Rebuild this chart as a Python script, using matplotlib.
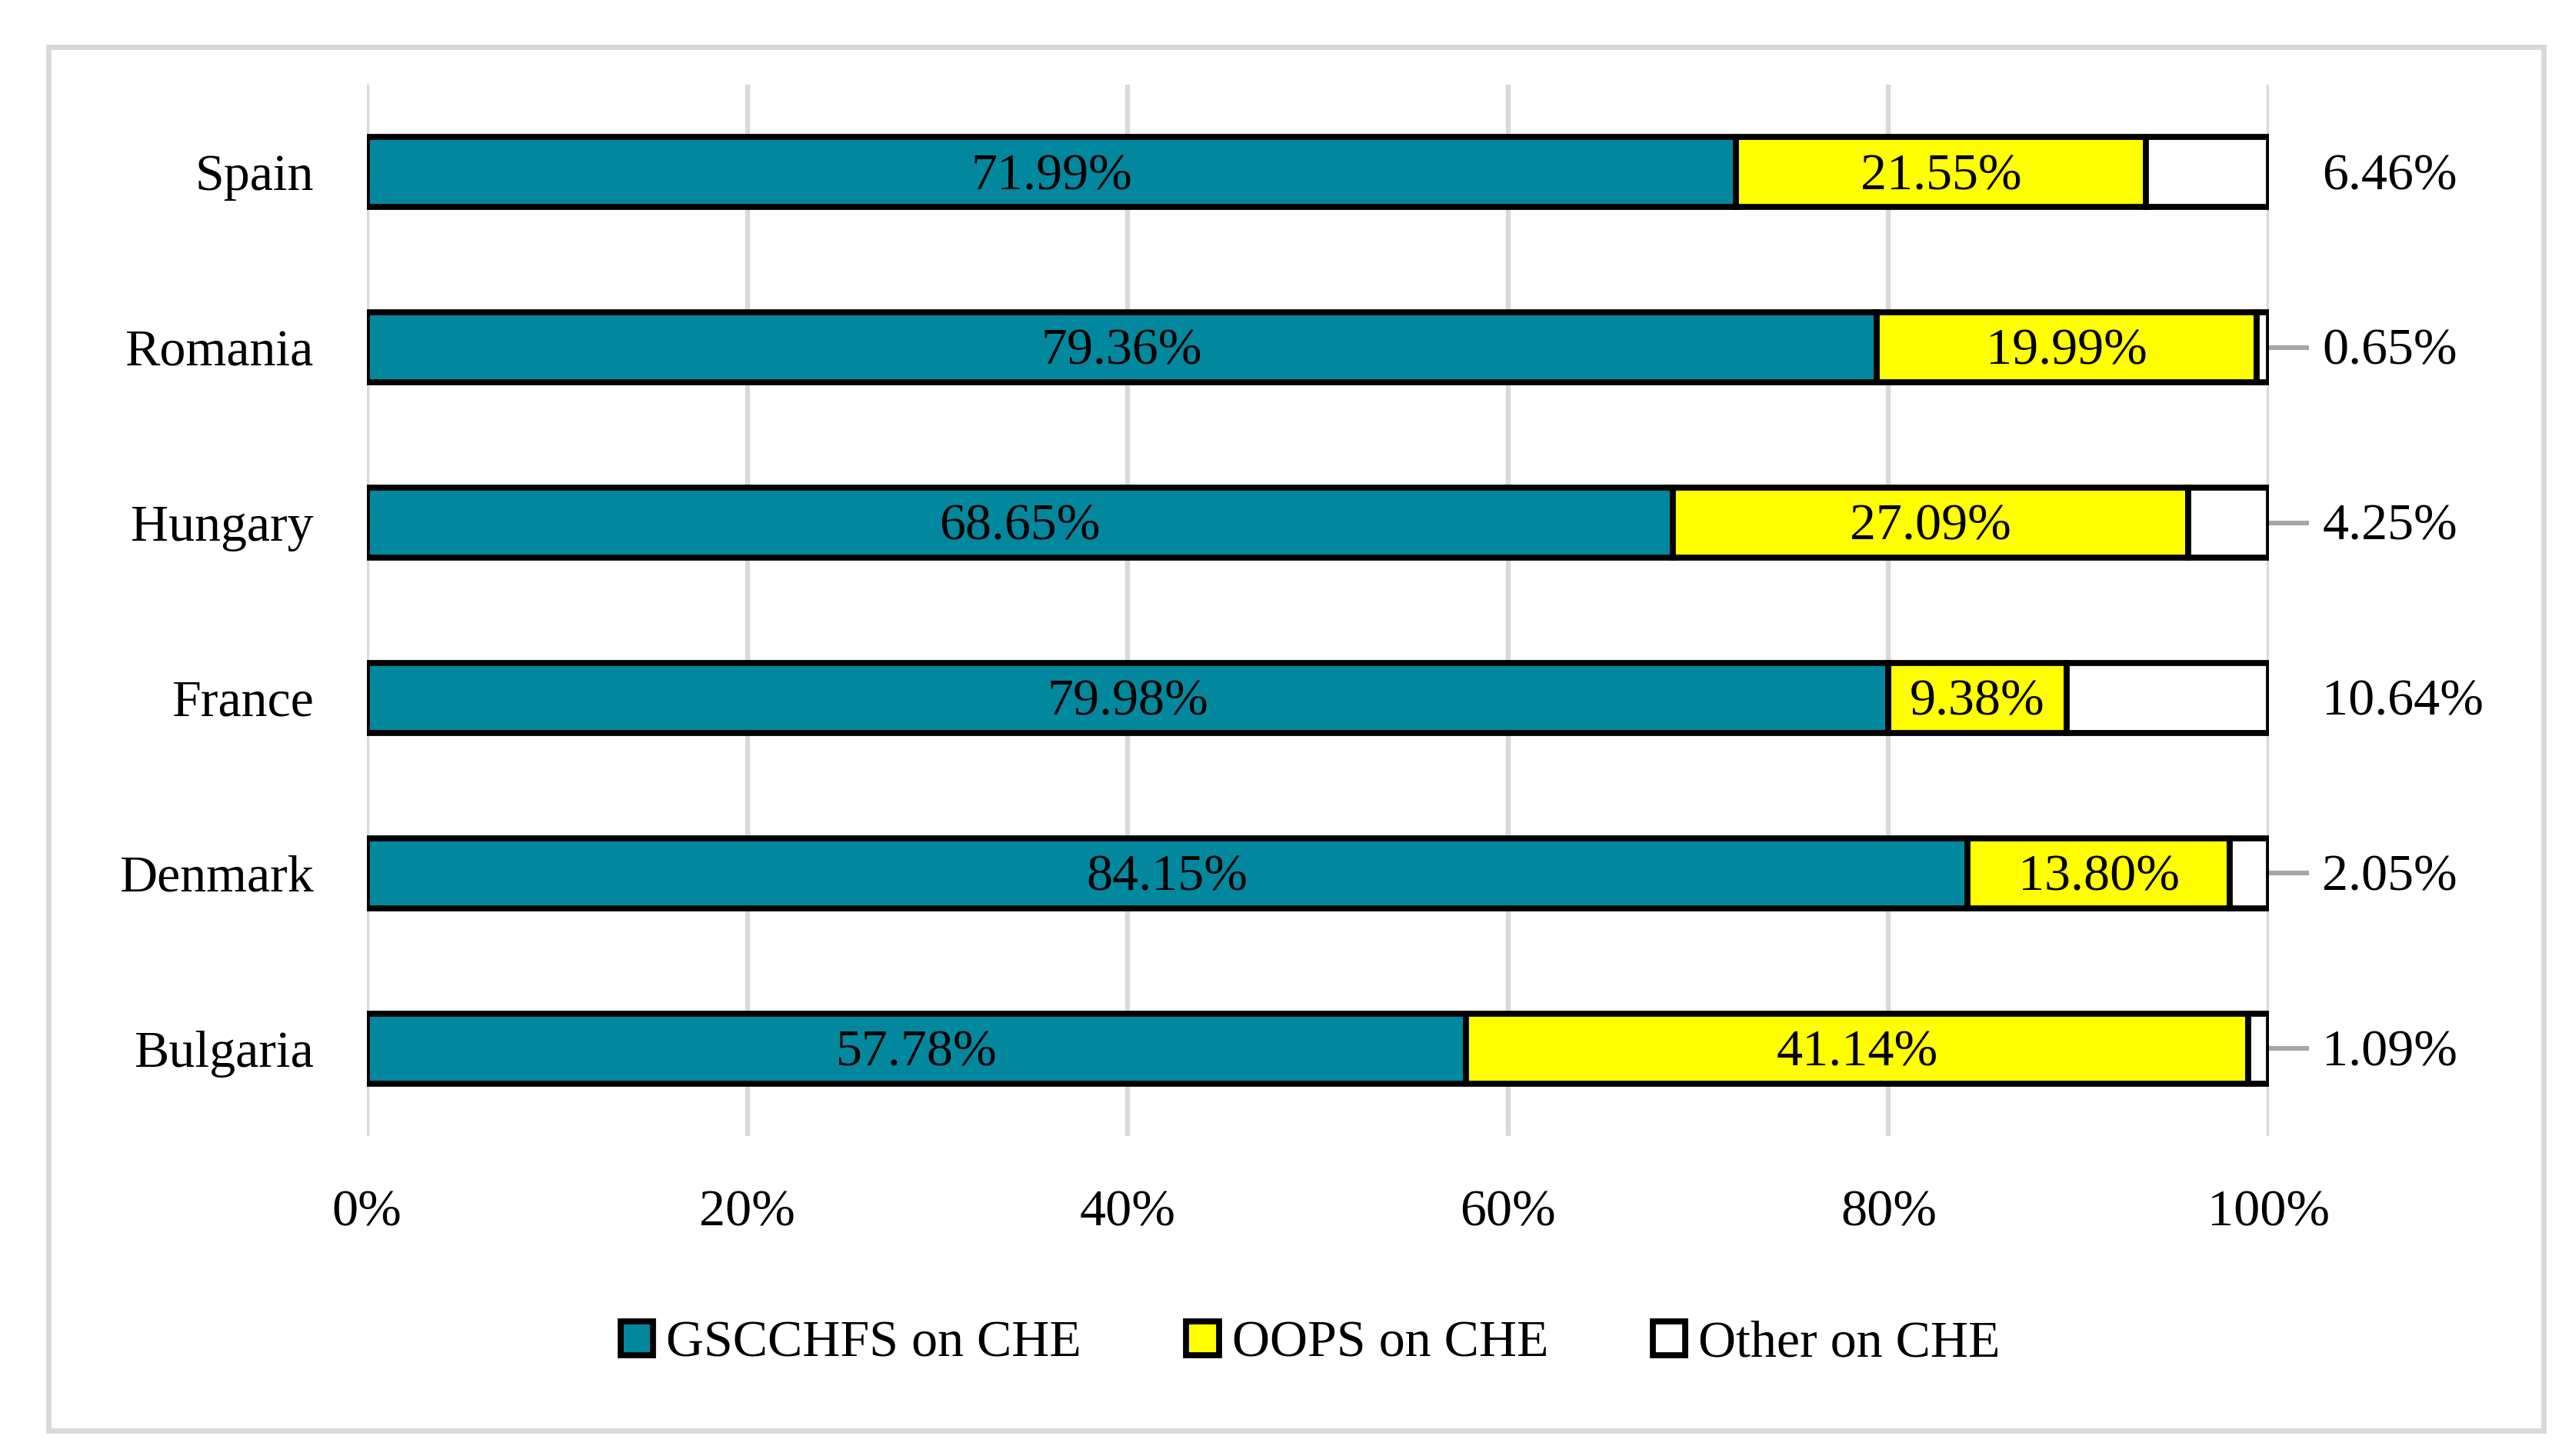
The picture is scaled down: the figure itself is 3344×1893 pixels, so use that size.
import matplotlib.pyplot as plt
from matplotlib.patches import Rectangle

# Shares of current health expenditure (CHE), in percent
countries = ['Bulgaria', 'Denmark', 'France', 'Hungary', 'Romania', 'Spain']
gsc_share = [57.78, 84.15, 79.98, 68.65, 79.36, 71.99]
oops_share = [41.14, 13.80, 9.38, 27.09, 19.99, 21.55]
other_share = [1.09, 2.05, 10.64, 4.25, 0.65, 6.46]
series_names = ['GSCCHFS on CHE', 'OOPS on CHE', 'Other on CHE']
x_ticks = [0, 20, 40, 60, 80, 100]

teal = '#02889E'
yellow = '#FFFF00'
grid_gray = '#D9D9D9'
leader_gray = '#A6A6A6'

plt.rcParams['font.family'] = ['Liberation Serif', 'DejaVu Serif']

W, H = 3344, 1893
fig = plt.figure(figsize=(W / 200, H / 200), dpi=200)
# axes placed from pixel measurements of the original
ax = fig.add_axes([477 / W, 1 - 1477 / H, (2950 - 477) / W, (1477 - 110) / H])

# outer chart frame
fig.patches.append(Rectangle((63 / W, 1 - 1860 / H), (3307 - 63) / W, (1860 - 61) / H,
                             transform=fig.transFigure, fill=False,
                             edgecolor=grid_gray, linewidth=2.5))

ypos = list(range(len(countries)))
bar_h = 0.40
edge = dict(edgecolor='black', linewidth=2.8)

left2 = [a for a in gsc_share]
left3 = [a + b for a, b in zip(gsc_share, oops_share)]
b1 = ax.barh(ypos, gsc_share, height=bar_h, color=teal, label=series_names[0], zorder=3, **edge)
b2 = ax.barh(ypos, oops_share, left=left2, height=bar_h, color=yellow, label=series_names[1], zorder=3, **edge)
b3 = ax.barh(ypos, other_share, left=left3, height=bar_h, color='white', label=series_names[2], zorder=3, **edge)

fs = 24.5
dy = -0.025  # nudge labels down a touch so digits sit centred in the bar
for i in ypos:
    ax.text(gsc_share[i] / 2, i + dy, f'{gsc_share[i]:.2f}%', ha='center', va='center', fontsize=fs, zorder=4)
    ax.text(left2[i] + oops_share[i] / 2, i + dy, f'{oops_share[i]:.2f}%', ha='center', va='center',
            fontsize=fs, zorder=4)
    # labels for the "other" segment sit outside the bar
    ax.text(102.8, i + dy, f'{other_share[i]:.2f}%', ha='left', va='center', fontsize=fs, clip_on=False)
    if other_share[i] < 5:
        ax.plot([100.1, 102.0], [i, i], color=leader_gray, linewidth=2.2, clip_on=False, zorder=2)

ax.set_xlim(0, 100)
ax.set_ylim(-0.5, 5.5)
ax.set_xticks(x_ticks)
ax.set_xticklabels([f'{t}%' for t in x_ticks], fontsize=fs)
ax.set_yticks(ypos)
ax.set_yticklabels(countries, fontsize=fs)
ax.tick_params(axis='x', length=0, pad=25)
ax.tick_params(axis='y', length=0, pad=25)
ax.grid(axis='x', color=grid_gray, linewidth=2.3, zorder=0)
ax.set_axisbelow(True)
for s in ax.spines.values():
    s.set_visible(False)

fig.legend(handles=[b1, b2, b3], labels=series_names, loc='center', bbox_to_anchor=(0.5096, 0.077),
           ncol=3, frameon=False, fontsize=fs, handlelength=0.62, handleheight=0.62,
           handletextpad=0.25, columnspacing=2.0)

fig.savefig('out.png', dpi=200, facecolor='white')
